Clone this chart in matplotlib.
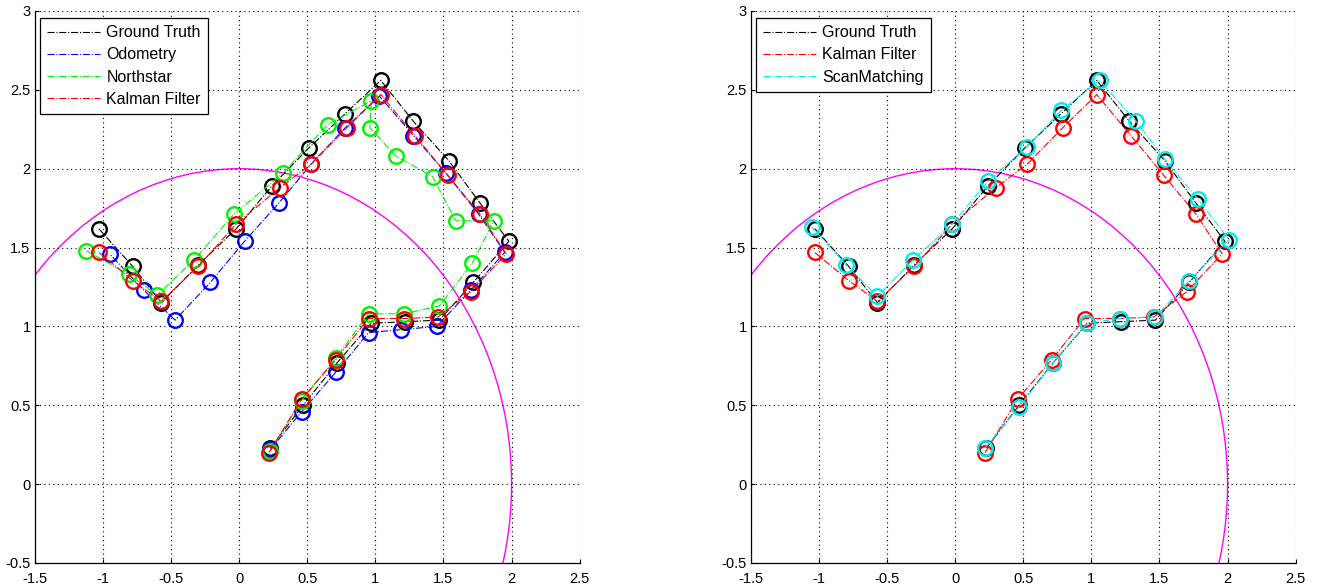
import matplotlib
matplotlib.use("Agg")
from matplotlib import pyplot as plt
from matplotlib.patches import Circle

plt.rcParams['font.family'] = ['Liberation Sans', 'DejaVu Sans']

# trajectories (x, y), from start point at the bottom to the end at the left
gt_x = [0.23, 0.47, 0.72, 0.97, 1.22, 1.47, 1.72, 1.98, 1.77, 1.54, 1.28, 1.04, 0.78, 0.51, 0.24, -0.02, -0.30, -0.57, -0.78, -1.03]
gt_y = [0.23, 0.50, 0.77, 1.02, 1.03, 1.04, 1.28, 1.54, 1.78, 2.05, 2.30, 2.56, 2.35, 2.13, 1.89, 1.62, 1.39, 1.15, 1.38, 1.62]

odo_x = [0.23, 0.46, 0.71, 0.95, 1.19, 1.45, 1.70, 1.95, 1.76, 1.52, 1.28, 1.03, 0.78, 0.53, 0.29, 0.04, -0.21, -0.47, -0.70, -0.95]
odo_y = [0.22, 0.46, 0.71, 0.96, 0.98, 1.00, 1.23, 1.47, 1.71, 1.97, 2.21, 2.46, 2.26, 2.03, 1.78, 1.54, 1.28, 1.04, 1.23, 1.46]

ns_x = [0.23, 0.46, 0.71, 0.95, 1.21, 1.47, 1.71, 1.87, 1.59, 1.42, 1.15, 0.96, 0.97, 0.65, 0.32, -0.04, -0.33, -0.60, -0.81, -1.12]
ns_y = [0.21, 0.53, 0.80, 1.08, 1.08, 1.13, 1.40, 1.67, 1.67, 1.95, 2.08, 2.26, 2.43, 2.28, 1.97, 1.71, 1.42, 1.20, 1.33, 1.48]

kf_x = [0.22, 0.46, 0.71, 0.95, 1.21, 1.46, 1.70, 1.96, 1.77, 1.53, 1.29, 1.04, 0.79, 0.53, 0.30, -0.02, -0.30, -0.57, -0.78, -1.03]
kf_y = [0.20, 0.54, 0.79, 1.05, 1.05, 1.06, 1.22, 1.46, 1.71, 1.96, 2.21, 2.47, 2.26, 2.03, 1.88, 1.65, 1.38, 1.16, 1.29, 1.47]

sm_x = [0.22, 0.47, 0.72, 0.97, 1.21, 1.47, 1.72, 2.01, 1.78, 1.54, 1.33, 1.06, 0.78, 0.53, 0.24, -0.02, -0.31, -0.57, -0.80, -1.05]
sm_y = [0.23, 0.49, 0.77, 1.02, 1.05, 1.06, 1.29, 1.55, 1.81, 2.06, 2.30, 2.56, 2.37, 2.14, 1.92, 1.65, 1.42, 1.19, 1.39, 1.63]

# magenta range circle
circle_center = (0, 0)
circle_radius = 2

xticks = [-1.5, -1, -0.5, 0, 0.5, 1, 1.5, 2, 2.5]
xticklabels = ['-1.5', '-1', '-0.5', '0', '0.5', '1', '1.5', '2', '2.5']
yticks = [-0.5, 0, 0.5, 1, 1.5, 2, 2.5, 3]
yticklabels = ['-0.5', '0', '0.5', '1', '1.5', '2', '2.5', '3']

W, H = 1319, 588
fig = plt.figure(figsize=(W / 100, H / 100), dpi=100)

ax_w = 545 / W
ax_h = 552 / H
ax_b = 25 / H
ax1 = fig.add_axes([34.7 / W, ax_b, ax_w, ax_h])
ax2 = fig.add_axes([750.7 / W, ax_b, ax_w, ax_h])


def draw_track(ax, x, y, color, label):
    ax.plot(x, y, linestyle='-.', color=color, linewidth=0.8, label=label)
    ax.plot(x, y, linestyle='none', marker='o', markersize=10.5,
            markerfacecolor='none', markeredgecolor=color, markeredgewidth=1.7)


def style_axes(ax):
    ax.add_patch(Circle(circle_center, circle_radius, fill=False,
                        edgecolor=(1, 0, 1), linewidth=1.0))
    ax.set_xlim(-1.5, 2.5)
    ax.set_ylim(-0.5, 3)
    ax.set_xticks(xticks)
    ax.set_xticklabels(xticklabels)
    ax.set_yticks(yticks)
    ax.set_yticklabels(yticklabels)
    ax.grid(True, color='k', linestyle=(0, (1, 3)), linewidth=0.8)
    ax.tick_params(direction='in', length=3, width=0.8, labelsize=10.5, colors='k')
    ax.tick_params(axis='x', pad=6.5)
    ax.tick_params(axis='y', pad=3)
    ax.spines['top'].set_visible(False)
    ax.spines['right'].set_visible(False)
    for s in ['left', 'bottom']:
        ax.spines[s].set_linewidth(0.9)


#левый график
draw_track(ax1, gt_x, gt_y, 'k', 'Ground Truth')
draw_track(ax1, odo_x, odo_y, (0, 0, 1), 'Odometry')
draw_track(ax1, ns_x, ns_y, (0, 0.95, 0), 'Northstar')
draw_track(ax1, kf_x, kf_y, (1, 0, 0), 'Kalman Filter')
style_axes(ax1)

#правый график
draw_track(ax2, gt_x, gt_y, 'k', 'Ground Truth')
draw_track(ax2, kf_x, kf_y, (1, 0, 0), 'Kalman Filter')
draw_track(ax2, sm_x, sm_y, (0, 0.92, 0.92), 'ScanMatching')
style_axes(ax2)

for ax in (ax1, ax2):
    leg = ax.legend(loc='upper left', bbox_to_anchor=(5.5 / 545, 1 - 7 / 552),
                    borderaxespad=0, fontsize=11.5, handlelength=3.3,
                    handletextpad=0.4, labelspacing=0.45, borderpad=0.45,
                    fancybox=False, framealpha=1, edgecolor='k')
    leg.get_frame().set_linewidth(0.9)

plt.savefig('out.png', dpi=100)
